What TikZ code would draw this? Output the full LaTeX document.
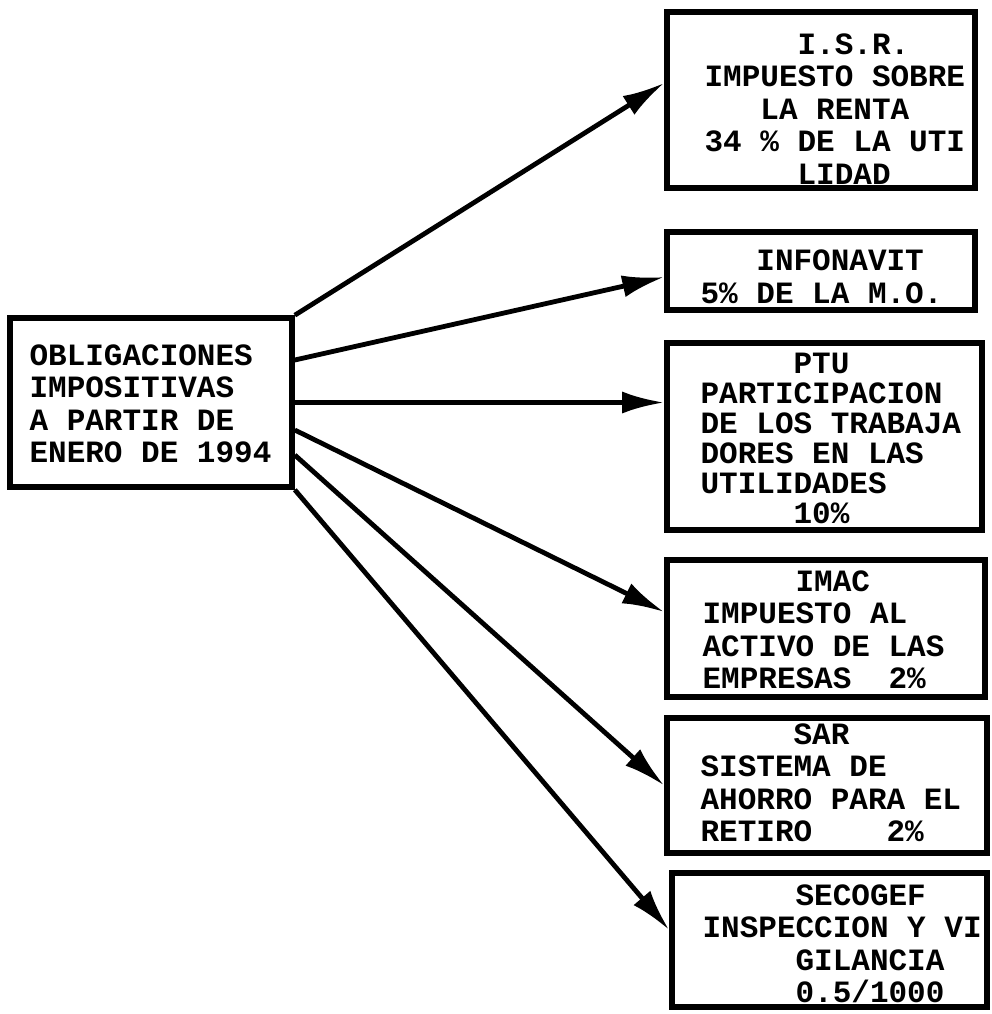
\documentclass[tikz,border=0pt]{standalone}
\usepackage{fontspec}
\setmonofont{Liberation Mono}
\usetikzlibrary{arrows.meta}

\begin{document}
\begin{tikzpicture}[x=0.5pt,y=-0.5pt,
  caja/.style={draw,line width=2.8pt,inner sep=0pt},
  texto/.style={anchor=west,align=left,inner sep=0pt,
    font=\fontsize{15.5pt}{16.25pt}\ttfamily\bfseries},
  flecha/.style={line width=2.4pt,-{Latex[length=21pt,width=11pt]}}]
\useasboundingbox (0,0) rectangle (992,1014);
% cajas
\node[caja,minimum width=141pt,minimum height=84.5pt] (obl) at (151,402.5) {};
\node[caja,minimum width=154pt,minimum height=88pt] (isr) at (821,100) {};
\node[caja,minimum width=154pt,minimum height=39pt] (info) at (821,271) {};
\node[caja,minimum width=157.5pt,minimum height=93.5pt] (ptu) at (824.5,436.5) {};
\node[caja,minimum width=159pt,minimum height=68.5pt] (imac) at (826,628.5) {};
\node[caja,minimum width=160pt,minimum height=67.5pt] (sar) at (827,785.5) {};
\node[caja,minimum width=157.5pt,minimum height=67pt] (seco) at (829.5,940) {};
% textos
\node[texto] (obltxt) at ([xshift=11pt,yshift=-0.75pt]obl.west)
  {OBLIGACIONES\\IMPOSITIVAS\\A PARTIR DE\\ENERO DE 1994};
\node[texto] (isrtxt) at ([xshift=20pt,yshift=-4.5pt]isr.west)
  {~~~~~I.S.R.\\IMPUESTO SOBRE\\~~~LA RENTA\\34 \% DE LA UTI\\~~~~~LIDAD};
\node[texto] (infotxt) at ([xshift=18pt,yshift=-3pt]info.west)
  {~~~INFONAVIT\\5\% DE LA M.O.};
\node[texto,font=\fontsize{15.5pt}{15pt}\ttfamily\bfseries] (ptutxt)
  at ([xshift=18pt,yshift=-1pt]ptu.west)
  {~~~~~PTU\\PARTICIPACION\\DE LOS TRABAJA\\DORES EN LAS\\UTILIDADES\\~~~~~10\%};
\node[texto] (imactxt) at ([xshift=19pt,yshift=-0.75pt]imac.west)
  {~~~~~IMAC\\IMPUESTO AL\\ACTIVO DE LAS\\EMPRESAS~~2\%};
\node[texto] (sartxt) at ([xshift=18pt,yshift=1.25pt]sar.west)
  {~~~~~SAR\\SISTEMA DE\\AHORRO PARA EL\\RETIRO~~~~2\%};
\node[texto] (secotxt) at ([xshift=16.5pt,yshift=-2pt]seco.west)
  {~~~~~SECOGEF\\INSPECCION Y VI\\~~~~~GILANCIA\\~~~~~0.5/1000};
% flechas
\draw[flecha] (obl.north east) -- ([yshift=8.5pt]isr.west);
\draw[flecha] ([yshift=21.25pt]obl.east) -- ([yshift=-3pt]info.west);
\draw[flecha] (obl.east) -- (obl.east -| ptu.west);
\draw[flecha] ([yshift=-13.75pt]obl.east) -- ([yshift=8.25pt]imac.west);
\draw[flecha] ([yshift=-26.25pt]obl.east) -- (sar.west);
\draw[flecha] (obl.south east) -- ([yshift=5pt]seco.west);
\end{tikzpicture}
\end{document}
